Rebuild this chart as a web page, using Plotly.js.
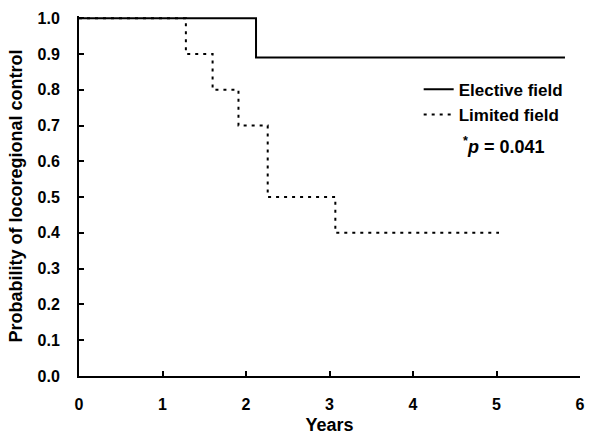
<!DOCTYPE html>
<html>
<head>
<meta charset="utf-8">
<script src="https://cdn.plot.ly/plotly-3.0.1.min.js"></script>
<style>html,body{margin:0;padding:0;background:#fff;}#chart{width:600px;height:443px;}</style>
</head>
<body>
<div id="chart"></div>
<script>
// Kaplan-Meier step data
const electiveYears = [0, 2.12, 5.82];
const electiveProb  = [1.0, 0.89, 0.89];
const limitedYears  = [0, 1.28, 1.60, 1.91, 2.26, 3.07, 5.03];
const limitedProb   = [1.0, 0.9, 0.8, 0.7, 0.5, 0.4, 0.4];
const seriesNames   = ["Elective field", "Limited field"];
const xTicks = [0, 1, 2, 3, 4, 5, 6];
const yTicks = [0, 0.1, 0.2, 0.3, 0.4, 0.5, 0.6, 0.7, 0.8, 0.9, 1.0];
const pText = "<sup>*</sup><i>p</i> = 0.041";

const FONT = "Liberation Sans, Arial, sans-serif";

const traces = [
  {x: electiveYears, y: electiveProb, name: seriesNames[0], mode: "lines",
   line: {shape: "hv", color: "#000", width: 2}, legendgroup: "a"},
  {x: limitedYears, y: limitedProb, name: seriesNames[1], mode: "lines",
   line: {shape: "hv", color: "#000", width: 2, dash: "3px,5px"}, legendgroup: "b"}
];

const layout = {
  width: 600, height: 443,
  margin: {l: 79, r: 20, t: 16, b: 67},
  paper_bgcolor: "#fff", plot_bgcolor: "#fff",
  font: {family: FONT, color: "#000", size: 16, weight: "bold"},
  showlegend: true,
  legend: {x: 0.678, y: 0.845, xanchor: "left", yanchor: "top",
           bgcolor: "rgba(0,0,0,0)", traceorder: "grouped", tracegroupgap: 0,
           font: {family: FONT, size: 17, weight: "bold", color: "#000"}},
  xaxis: {range: [0, 6], tickvals: xTicks, ticktext: xTicks.map(String),
          showline: true, linecolor: "#000", linewidth: 2, showgrid: false, zeroline: false,
          ticks: "inside", ticklen: 5, tickwidth: 2, tickcolor: "#000",
          ticklabelstandoff: 13,
          tickfont: {family: FONT, size: 16, weight: "bold"},
          title: {text: "Years", font: {family: FONT, size: 18, weight: "bold"}, standoff: 6}},
  yaxis: {range: [0, 1.006], tickvals: yTicks, ticktext: yTicks.map(v => v.toFixed(1)),
          showline: true, linecolor: "#000", linewidth: 2, showgrid: false, zeroline: false,
          ticks: "inside", ticklen: 5, tickwidth: 2, tickcolor: "#000",
          ticklabelstandoff: 14,
          tickfont: {family: FONT, size: 16, weight: "bold"},
          title: {text: "Probability of locoregional control", font: {family: FONT, size: 18, weight: "bold"}, standoff: 10}},
  annotations: [
    {text: pText, xref: "paper", yref: "paper", x: 0.762, y: 0.64, xanchor: "left", yanchor: "middle",
     showarrow: false, font: {family: FONT, size: 18, weight: "bold", color: "#000"}}
  ]
};

Plotly.newPlot("chart", traces, layout, {displayModeBar: false, staticPlot: true});
</script>
</body>
</html>
